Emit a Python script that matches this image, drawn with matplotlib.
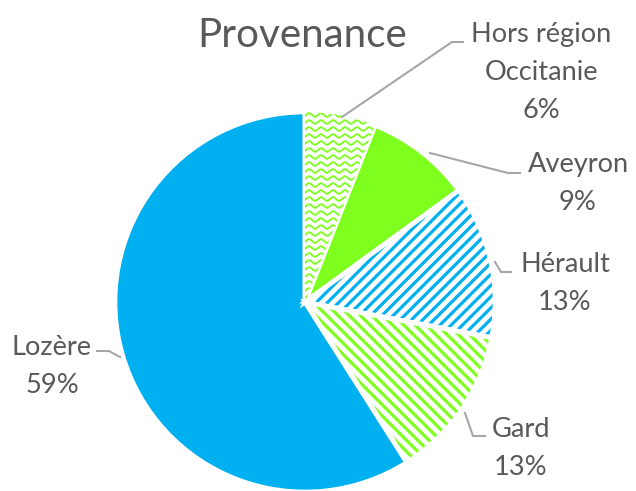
import matplotlib
matplotlib.use("Agg")
import matplotlib.pyplot as plt
import numpy as np

# data
labels = ["Hors région\nOccitanie", "Aveyron", "Hérault", "Gard", "Lozère"]
pcts = [6, 9, 13, 13, 59]

BLUE = "#00B0F0"
GREEN = "#7FFF1E"
GREY_TXT = "#595959"
GREY_LINE = "#A6A6A6"

colors = [GREEN, GREEN, BLUE, GREEN, BLUE]
hatches = ["wave", None, "////", "\\\\\\\\", None]

# layout (pixel coords, y down)
W, H = 636, 491
DPI = 135
cx, cy, R = 305, 302, 190
label_pos = [(541, 42), (578, 172), (565, 272), (521, 437), (52, 355)]
leaders = [
    [(342, 117), (452, 42), (463, 42)],
    [(430, 153), (508, 173), (520, 173)],
    [(495, 262), (501, 272), (511, 272)],
    [(465, 413), (473, 436), (485, 436)],
    [(120, 357), (109, 351), (97, 351)],
]
line_gap = 38

plt.rcParams['font.family'] = ['Lato', 'DejaVu Sans']
plt.rcParams['hatch.linewidth'] = 1.7

fig = plt.figure(figsize=(W / DPI, H / DPI), dpi=DPI)
ax = fig.add_axes([0, 0, 1, 1])

wedges, _ = ax.pie(pcts, colors=colors, center=(cx, cy), radius=R,
                   startangle=-90, counterclock=True,
                   wedgeprops=dict(edgecolor="white", linewidth=1.5))

for w, c, h in zip(wedges, colors, hatches):
    if h is None:
        continue
    w.set_facecolor("white")
    w.set_edgecolor(c)
    w.set_linewidth(0)
    if h == "wave":
        xs = np.arange(cx - 10, cx + 100, 0.5)
        for y0 in np.arange(cy - R - 4, cy, 7):
            ln, = ax.plot(xs, y0 + 1.8 * np.sin(2 * np.pi * xs / 12), color=c, lw=1.0)
            ln.set_clip_path(w)
    else:
        w.set_hatch(h)

# white separators on top
ax.pie(pcts, colors=["none"] * len(pcts), center=(cx, cy), radius=R,
       startangle=-90, counterclock=True,
       wedgeprops=dict(edgecolor="white", linewidth=2.5, fill=False))

for pts in leaders:
    xs, ys = zip(*pts)
    ax.plot(xs, ys, color=GREY_LINE, lw=1.1)

for (x, y), lab, p in zip(label_pos, labels, pcts):
    lines = lab.split("\n") + [f"{p}%"]
    for i, t in enumerate(lines):
        ax.text(x, y + i * line_gap, t, ha="center", va="baseline",
                fontsize=14.5, color=GREY_TXT)

ax.text(302, 47, "Provenance", ha="center", va="baseline", fontsize=21.5, color=GREY_TXT)

ax.set_xlim(0, W)
ax.set_ylim(H, 0)
ax.axis("off")

fig.savefig("out.png", dpi=DPI)
